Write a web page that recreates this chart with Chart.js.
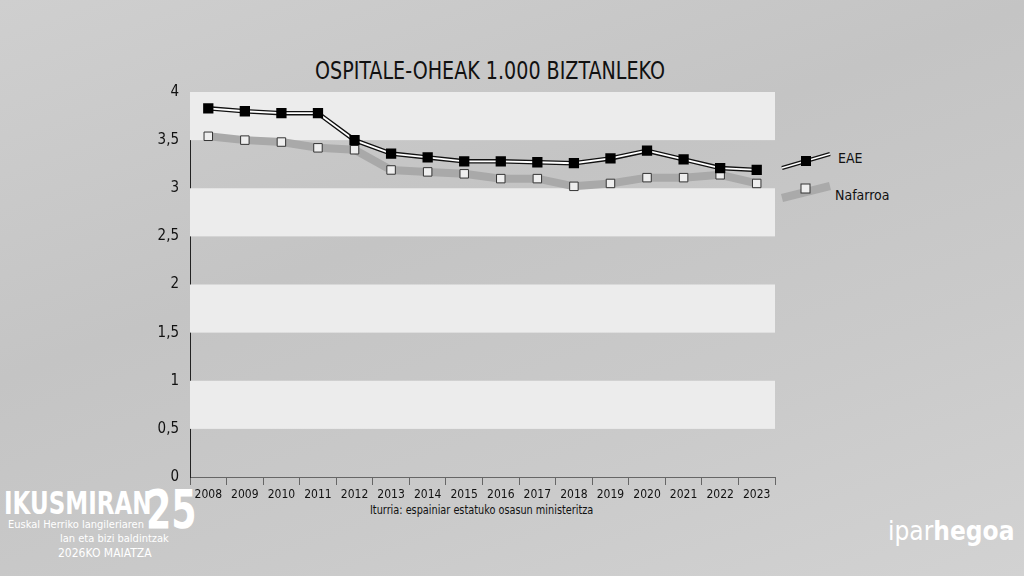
<!DOCTYPE html>
<html><head><meta charset="utf-8">
<script src="https://cdn.jsdelivr.net/npm/chart.js@4"></script>
<style>
body{margin:0;width:1024px;height:576px;overflow:hidden;font-family:"DejaVu Sans Condensed","DejaVu Sans",sans-serif;
 background:linear-gradient(160deg,#cfcfcf 0%,#c4c4c4 40%,#cacaca 70%,#d2d2d2 100%);position:relative}
#wrap{position:absolute;left:0;top:0;width:1024px;height:576px}
.t{position:absolute;white-space:nowrap}
</style></head><body>
<div class="t" style="left:0;width:980px;top:56px;text-align:center;font-size:25px;color:#111;transform:scaleX(0.85)">OSPITALE-OHEAK 1.000 BIZTANLEKO</div>
<div class="t" style="left:370px;top:503px;font-size:12px;color:#111;transform:scaleX(0.9);transform-origin:left">Iturria: espainiar estatuko osasun ministeritza</div>
<div class="t" style="left:838px;top:150px;font-size:14px;color:#111">EAE</div>
<div class="t" style="left:835px;top:187px;font-size:14px;color:#111">Nafarroa</div>
<div class="t" style="left:4px;top:484px;font-size:32px;font-weight:bold;color:#fff;transform:scaleX(0.8);transform-origin:left">IKUSMIRAN</div>
<div class="t" style="left:146px;top:478px;font-size:54px;font-weight:bold;color:#fff;transform:scaleX(0.75);transform-origin:left">25</div>
<div class="t" style="left:8px;top:518px;font-size:11px;color:#fff">Euskal Herriko langileriaren</div>
<div class="t" style="left:60px;top:532px;font-size:11px;color:#fff">lan eta bizi baldintzak</div>
<div class="t" style="left:58px;top:546px;font-size:12px;color:#fff">2026KO MAIATZA</div>
<div class="t" style="left:888px;top:516px;font-size:26px;color:#fff"><span>ipar</span><b>hegoa</b></div>
<div id="wrap"><canvas id="c" width="1024" height="576"></canvas></div>
<script>
const years = ['2008','2009','2010','2011','2012','2013','2014','2015','2016','2017','2018','2019','2020','2021','2022','2023'];
const eae = [3.83, 3.80, 3.78, 3.78, 3.50, 3.36, 3.32, 3.28, 3.28, 3.27, 3.26, 3.31, 3.39, 3.30, 3.21, 3.19];
const nafarroa = [3.54, 3.50, 3.48, 3.42, 3.40, 3.19, 3.17, 3.15, 3.10, 3.10, 3.02, 3.05, 3.11, 3.11, 3.14, 3.05];

// light bands behind the plot + legend samples
const bands = {
    id: 'bands',
    beforeDatasetsDraw(chart) {
        const {ctx, chartArea: a, scales: {y}} = chart;
        ctx.save();
        ctx.fillStyle = '#ececec';
        [[3.5, 4], [2.5, 3], [1.5, 2], [0.5, 1]].forEach(([lo, hi]) => {
            ctx.fillRect(a.left, y.getPixelForValue(hi), a.right - a.left, y.getPixelForValue(lo) - y.getPixelForValue(hi));
        });
        ctx.restore();
    },
    afterDraw(chart) {
        const ctx = chart.ctx;
        ctx.save();
        ctx.lineCap = 'butt';
        ctx.strokeStyle = '#aaa'; ctx.lineWidth = 8;
        ctx.beginPath(); ctx.moveTo(782, 198); ctx.lineTo(830, 186); ctx.stroke();
        ctx.fillStyle = '#eee'; ctx.strokeStyle = '#333'; ctx.lineWidth = 1;
        ctx.fillRect(801, 184, 9, 9); ctx.strokeRect(801, 184, 9, 9);
        ctx.strokeStyle = '#111'; ctx.lineWidth = 4;
        ctx.beginPath(); ctx.moveTo(782, 168); ctx.lineTo(830, 154); ctx.stroke();
        ctx.strokeStyle = '#fff'; ctx.lineWidth = 1.5; ctx.stroke();
        ctx.fillStyle = '#000'; ctx.fillRect(801, 156, 10, 10);
        ctx.restore();
    }
};

new Chart(document.getElementById('c').getContext('2d'), {
    type: 'line',
    data: {
        labels: years,
        datasets: [
            {
                label: 'Nafarroa',
                data: nafarroa,
                order: 3,
                borderColor: '#a9a9a9',
                borderWidth: 8,
                pointStyle: 'rect',
                pointRadius: 6,
                pointBackgroundColor: '#eeeeee',
                pointBorderColor: '#333',
                pointBorderWidth: 1,
                tension: 0
            },
            {
                label: 'EAE',
                data: eae,
                order: 2,
                borderColor: '#111',
                borderWidth: 4.5,
                pointRadius: 0,
                tension: 0
            },
            {
                label: 'EAE',
                data: eae,
                order: 1,
                borderColor: '#fff',
                borderWidth: 1.8,
                pointStyle: 'rect',
                pointRadius: 6,
                pointBackgroundColor: '#000',
                pointBorderColor: '#000',
                tension: 0
            }
        ]
    },
    options: {
        responsive: false,
        animation: false,
        layout: {padding: {left: 150, right: 249, top: 92, bottom: 69}},
        plugins: {legend: {display: false}, tooltip: {enabled: false}},
        scales: {
            x: {
                offset: true,
                grid: {display: true, drawOnChartArea: false, offset: true, tickLength: 8, color: '#666'},
                border: {color: '#666'},
                ticks: {color: '#111', font: {size: 12, family: 'DejaVu Sans Condensed'}, maxRotation: 0, autoSkip: false},
                afterFit: s => { s.height = 30; }
            },
            y: {
                min: 0, max: 4,
                grid: {display: false},
                border: {color: '#222'},
                ticks: {stepSize: 0.5, color: '#111', font: {size: 15, family: 'DejaVu Sans Condensed'},
                    callback: v => String(v).replace('.', ',')},
                afterFit: s => { s.width = 40; }
            }
        }
    },
    plugins: [bands]
});
</script>
</body></html>
